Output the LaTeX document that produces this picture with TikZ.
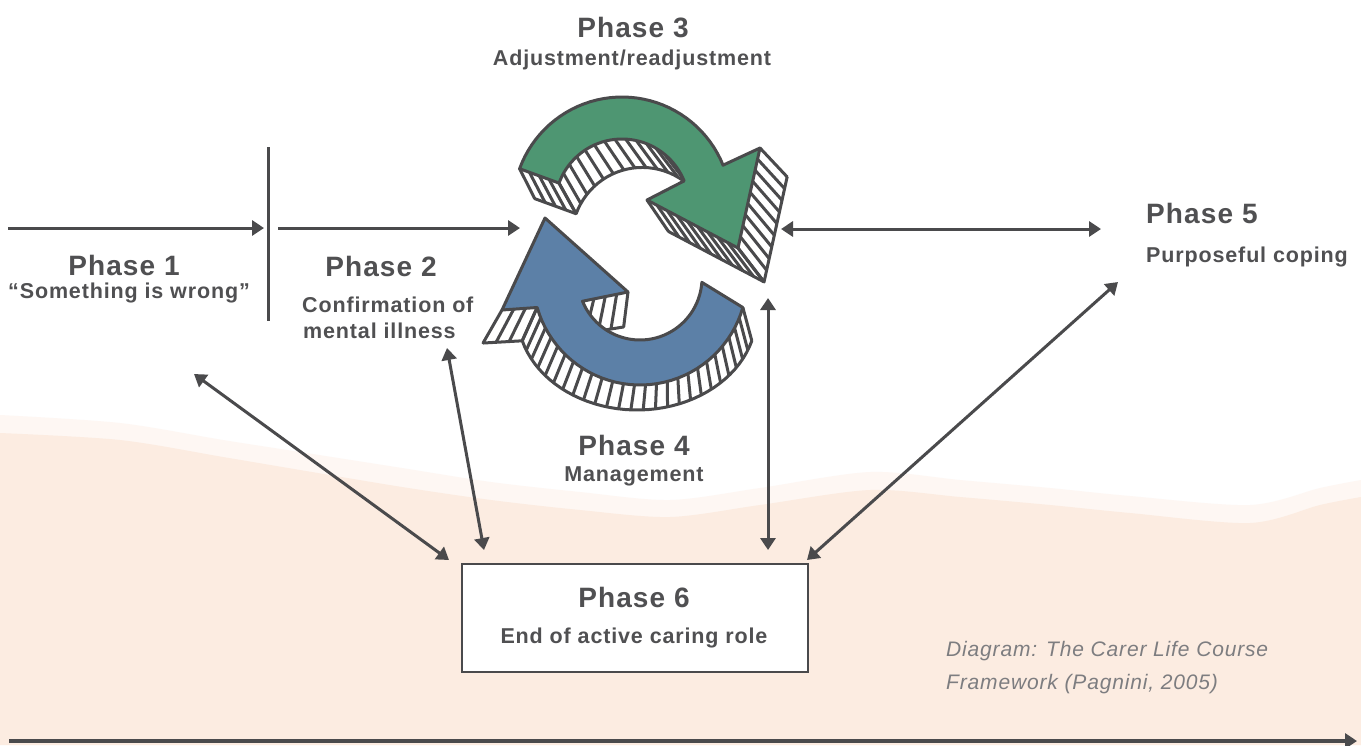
\documentclass[tikz,border=0pt]{standalone}
\usepackage{fontspec}
\setmainfont{Liberation Sans}
\newfontfamily\lblfont{Liberation Sans}[LetterSpace=4]
\usetikzlibrary{arrows.meta}
\definecolor{ink}{RGB}{74,74,76}
\definecolor{txt}{RGB}{80,80,82}
\definecolor{peach}{RGB}{252,236,225}
\definecolor{cgreen}{RGB}{78,150,114}
\definecolor{cblue}{RGB}{92,128,167}
\definecolor{capgray}{RGB}{125,125,128}
\newcommand\wallstripes[7]{%
  \foreach \k in {0,...,#5} {%
    \pgfmathsetmacro\px{#1+(\k/#5)*((#3)-(#1))}%
    \pgfmathsetmacro\py{#2+(\k/#5)*((#4)-(#2))}%
    \draw[stripe] (\px,\py) -- ({#6(\px)},{#7(\py)});
  }}
\newcommand\arcstripes[8]{%
  \foreach \k in {0,...,#6} {%
    \pgfmathsetmacro\aa{#4+\k*((#5)-(#4))/#6}%
    \pgfmathsetmacro\px{#1+#3*cos(\aa)}%
    \pgfmathsetmacro\py{#2-#3*sin(\aa)}%
    \draw[stripe] (\px,\py) -- ({#7(\px)},{#8(\py)});
  }}
\begin{document}
\begin{tikzpicture}[x=1pt,y=-1pt,
  declare function={tgx(\t)=1.05*\t-10.85; tgy(\t)=1.05*\t+21.5;
                    tbx(\t)=1.116*\t-77.2; tby(\t)=0.893*\t+66.2;},
  stripe/.style={draw=ink,line width=3pt},
  edge/.style={draw=ink,line width=3pt,line join=round,line cap=round},
  face/.style={draw=ink,line width=3pt,line join=round},
  conn/.style={draw=ink,line width=3pt},
  onearrow/.style={conn,-{Triangle[length=12pt,width=15pt]}},
  twoarrow/.style={conn,{Triangle[length=12pt,width=15pt]}-{Triangle[length=12pt,width=15pt]}},
  head/.style={text=txt,font=\lblfont\bfseries\fontsize{28}{30}\selectfont,inner sep=0pt},
  sub/.style={text=txt,font=\lblfont\bfseries\fontsize{21.5}{23}\selectfont,inner sep=0pt},
  capt/.style={text=capgray,font=\lblfont\itshape\fontsize{21}{23}\selectfont,inner sep=0pt,anchor=base west},
  boxsty/.style={draw=ink,line width=2.7pt,fill=white,minimum width=346pt,minimum height=108pt,inner sep=0pt}]
\useasboundingbox (0,0) rectangle (1361,745);
% background
\fill[white] (0,0) rectangle (1361,745);
\fill[peach!40] plot[smooth] coordinates {(0,415) (120,423) (223,440) (300,452) (402,468) (491,482) (580,492) (670,500) (760,488) (870,472) (960,480) (1050,488) (1130,496) (1250,505) (1320,488) (1361,480)} -- (1361,745) -- (0,745) -- cycle;
\fill[peach] plot[smooth] coordinates {(0,433) (120,440) (223,457) (300,470) (402,487) (491,500) (580,510) (670,517) (760,505) (870,490) (960,497) (1050,505) (1130,513) (1250,523) (1320,505) (1361,497)} -- (1361,745) -- (0,745) -- cycle;

% ---------- green arrow (Phase 3) ----------
\wallstripes{519.6}{168.7}{559.0}{183.1}{4}{tgx}{tgy}
\arcstripes{622}{206}{67}{160}{32}{14}{tgx}{tgy}
\wallstripes{760}{148}{738}{248}{9}{tgx}{tgy}
\wallstripes{738}{248}{647}{200}{9}{tgx}{tgy}
\draw[edge] ({tgx(519.6)},{tgy(168.7)}) -- plot[domain=160:32,samples=30] ({tgx(622+67*cos(\x))},{tgy(206-67*sin(\x))});
\draw[edge] ({tgx(760)},{tgy(148)}) -- ({tgx(738)},{tgy(248)}) -- ({tgx(647)},{tgy(200)});
\filldraw[face,fill=cgreen] plot[domain=160:22,samples=40] ({622+109*cos(\x)},{206-109*sin(\x)}) -- (760,148) -- (738,248) -- (647,200) -- plot[domain=22:160,samples=40] ({622+67*cos(\x)},{206-67*sin(\x)}) -- cycle;

% ---------- blue arrow (Phase 4) ----------
\wallstripes{502}{310}{537.1}{307.5}{3}{tbx}{tby}
\arcstripes{640}{278}{107}{196}{344}{25}{tbx}{tby}
\wallstripes{582.5}{301.2}{628}{292}{4}{tbx}{tby}
\draw[edge] ({tbx(502)},{tby(310)}) -- plot[domain=196:344,samples=40] ({tbx(640+107*cos(\x))},{tby(278-107*sin(\x))});
\draw[edge] ({tbx(582.5)},{tby(301.2)}) -- ({tbx(628)},{tby(292)});
\filldraw[face,fill=cblue] (545,218) -- (502,310) -- plot[domain=196:344,samples=40] ({640+107*cos(\x)},{278-107*sin(\x)}) -- plot[domain=356:202,samples=40] ({640+62*cos(\x)},{278-62*sin(\x)}) -- (628,292) -- cycle;

% ---------- texts ----------
\node[head,anchor=base] (ph3) at (633,37) {Phase 3};
\node[sub,anchor=base] (ph3s) at (632,65) {Adjustment/readjustment};
\node[head,anchor=base] (ph1) at (124,275) {Phase 1};
\node[sub,anchor=base] (ph1s) at (129,298) {“Something is wrong”};
\node[head,anchor=base] (ph2) at (381,276) {Phase 2};
\node[sub,anchor=base west] (ph2a) at (302,312) {Confirmation of};
\node[sub,anchor=base west] (ph2b) at (303,338) {mental illness};
\node[head,anchor=base] (ph4) at (634,455) {Phase 4};
\node[sub,anchor=base] (ph4s) at (634,481) {Management};
\node[head,anchor=base west] (ph5) at (1146,223) {Phase 5};
\node[sub,anchor=base west] (ph5s) at (1146,262) {Purposeful coping};
\node[boxsty] (box6) at (635,618) {};
\node[head,anchor=base] (ph6) at (634,607) {Phase 6};
\node[sub,anchor=base] (ph6s) at (634,643) {End of active caring role};
\node[capt] (cap1) at (946,656) {Diagram: The Carer Life Course};
\node[capt] (cap2) at (946,689) {Framework (Pagnini, 2005)};

% ---------- connectors ----------
\coordinate (l1a) at (8,228);   \coordinate (l1b) at (264,228);
\coordinate (dv1) at (268,147); \coordinate (dv2) at (268,321);
\coordinate (l2a) at (278,228); \coordinate (l2b) at (520,228);
\coordinate (r3a) at (781,229); \coordinate (r3b) at (1101,229);
\coordinate (c1a) at (194,374); \coordinate (c1b) at (449,560);
\coordinate (c2a) at (447,348); \coordinate (c2b) at (484,550);
\coordinate (c4a) at (768,298); \coordinate (c4b) at (768,550);
\coordinate (c5a) at (1118,282); \coordinate (c5b) at (807,560);
\coordinate (tla) at (9,741);   \coordinate (tlb) at (1357,741);
\draw[onearrow] (l1a) -- (l1b);
\draw[conn] (dv1) -- (dv2);
\draw[onearrow] (l2a) -- (l2b);
\draw[twoarrow] (r3a) -- (r3b);
\draw[twoarrow] (c1a) -- (c1b);
\draw[twoarrow] (c2a) -- (c2b);
\draw[twoarrow] (c4a) -- (c4b);
\draw[twoarrow] (c5a) -- (c5b);
\draw[onearrow,line width=3.5pt] (tla) -- (tlb);
\end{tikzpicture}
\end{document}
